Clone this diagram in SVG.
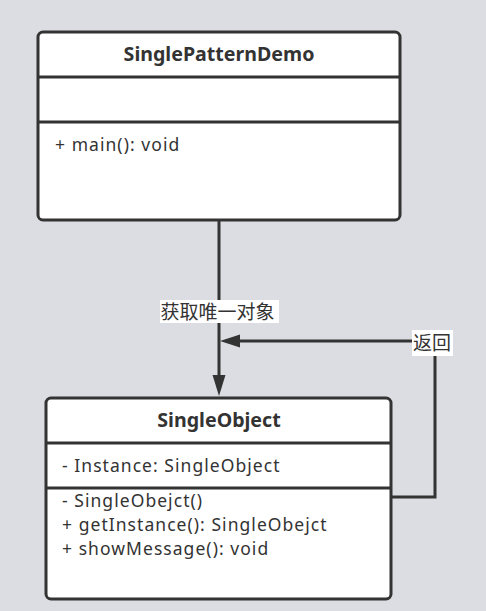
<svg xmlns="http://www.w3.org/2000/svg" width="486" height="611" viewBox="0 0 486 611">
<defs>
<style>
.box{fill:#fff;stroke:#333;stroke-width:3}
.div{stroke:#333;stroke-width:3}
.title{font-family:"Noto Sans","Noto Sans CJK SC",sans-serif;font-size:19.6px;font-weight:bold;fill:#333;text-anchor:middle}
.txt{font-family:"Noto Sans","Noto Sans CJK SC",sans-serif;font-size:17.5px;letter-spacing:1.05px;fill:#333}
.lbl{font-family:"Noto Sans CJK SC",sans-serif;font-size:19px;fill:#333}
.edge{fill:none;stroke:#333;stroke-width:3}
</style>
</defs>
<rect x="0" y="0" width="486" height="611" fill="#dcdde2"/>
<g id="SinglePatternDemo">
<rect class="box" x="38" y="32" width="362" height="188" rx="5"/>
<line class="div" x1="38" y1="77" x2="400" y2="77"/>
<line class="div" x1="38" y1="122" x2="400" y2="122"/>
<text class="title" x="219" y="61">SinglePatternDemo</text>
<text class="txt" x="55" y="151">+ main(): void</text>
</g>
<g id="SingleObject">
<rect class="box" x="46" y="398" width="345" height="201" rx="5"/>
<line class="div" x1="46" y1="443" x2="391" y2="443"/>
<line class="div" x1="46" y1="488" x2="391" y2="488"/>
<text class="title" x="219" y="427">SingleObject</text>
<text class="txt" x="62" y="472">- Instance: SingleObject</text>
<text class="txt" x="62" y="507">- SingleObejct()</text>
<text class="txt" x="62" y="531">+ getInstance(): SingleObejct</text>
<text class="txt" x="62" y="555">+ showMessage(): void</text>
</g>
<g id="connectors">
<path class="edge" d="M219,220 L219,384"/>
<path d="M212.5,375 L225.5,375 L219,396 Z" fill="#333"/>
<rect x="160" y="300" width="119" height="23" fill="#fff"/>
<text class="lbl" x="160.5" y="318.5">获取唯一对象</text>
<path class="edge" d="M391,497 L435,497 L435,341 L232,341"/>
<path d="M240,334.5 L240,347.5 L220,341 Z" fill="#333"/>
<rect x="412" y="330" width="41" height="26" fill="#fff"/>
<text class="lbl" x="413" y="350">返回</text>
</g>
</svg>
